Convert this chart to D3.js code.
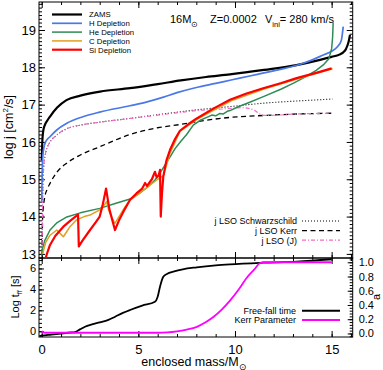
<!DOCTYPE html>
<html><head><meta charset="utf-8">
<script src="https://cdn.jsdelivr.net/npm/d3@7"></script>
<style>
body{margin:0;background:#fff;}
text{font-family:"Liberation Sans",Arial,Helvetica,sans-serif;fill:#000;}
</style></head>
<body><svg id="c" width="383" height="370"></svg>
<script>
// ---------- DATA ----------
const zams = [[0.0,15.5],[0.03,16.0],[0.08,16.3],[0.16,16.45],[0.3,16.58],[0.43,16.68],[0.8,16.92],[1.28,17.12],[2,17.24],[3.02,17.35],[4.57,17.44],[6,17.55],[7.2,17.65],[8.5,17.74],[9.74,17.81],[11.5,17.93],[13.18,18.06],[14.4,18.2],[15.0,18.28],[15.4,18.34],[15.6,18.4],[15.75,18.5],[15.86,18.65],[15.95,18.87]];
const hDepl = [[0.0,14.4],[0.03,15.3],[0.08,15.75],[0.2,16.0],[0.43,16.14],[0.78,16.32],[1.3,16.5],[2.1,16.67],[3,16.8],[4.57,16.97],[5.5,17.08],[6.3,17.2],[7,17.32],[8,17.46],[9,17.57],[9.8,17.66],[10.7,17.76],[11.5,17.85],[12.4,17.95],[13.3,18.07],[14.0,18.2],[14.57,18.33],[15.0,18.43],[15.3,18.55],[15.5,18.72],[15.6,19.09]];
const heDepl = [[0,12.95],[0.05,13.15],[0.15,13.35],[0.43,13.64],[0.8,13.84],[1.3,13.99],[2,14.1],[3,14.22],[3.8,14.35],[4.57,14.47],[5.0,14.6],[5.5,14.8],[5.86,14.98],[6.15,15.19],[6.4,15.4],[6.64,15.6],[6.9,15.82],[7.2,16.02],[7.5,16.2],[7.84,16.45],[8.2,16.58],[8.54,16.66],[8.8,16.72],[9.0,16.7],[9.2,16.76],[9.4,16.75],[9.6,16.82],[9.74,16.84],[10.2,16.95],[10.7,17.05],[11.5,17.22],[12.4,17.42],[13.0,17.57],[13.6,17.73],[14.2,17.92],[14.6,18.08],[14.85,18.22],[15.0,18.5],[15.05,18.8],[15.08,19.2]];
const cDepl = [[0.05,13.0],[0.2,13.3],[0.43,13.5],[0.78,13.64],[0.95,13.55],[1.12,13.46],[1.3,13.6],[1.46,13.73],[1.8,13.91],[2.2,14.0],[2.5,14.04],[3.0,14.18],[3.2,14.28],[3.36,14.4],[3.45,14.2],[3.53,14.09],[3.65,13.95],[3.79,13.82],[4.0,14.0],[4.3,14.25],[4.57,14.44],[5.0,14.6],[5.5,14.8],[6.0,15.0],[6.3,15.1],[6.64,15.7],[7.15,16.28],[8.07,16.62],[9.8,17.1],[11.5,17.42],[13.3,17.7],[15.05,17.96]];
const siDepl = [[0.18,12.85],[0.3,13.05],[0.43,13.24],[0.7,13.48],[1.12,13.73],[1.5,13.9],[1.88,14.05],[1.92,13.2],[2.1,13.35],[2.5,13.64],[2.8,13.85],[3.0,14.0],[3.15,14.3],[3.33,14.75],[3.5,14.2],[3.79,13.64],[4.0,13.9],[4.3,14.2],[4.57,14.45],[4.9,14.62],[5.2,14.75],[5.35,14.9],[5.45,14.82],[5.7,15.0],[5.86,15.2],[5.95,15.05],[6.05,15.1],[6.12,15.25],[6.16,14.0],[6.22,14.6],[6.29,15.07],[6.45,15.5],[6.64,15.79],[6.9,16.08],[7.15,16.3],[7.6,16.48],[8.02,16.63],[8.9,16.9],[9.74,17.13],[10.6,17.3],[11.46,17.44],[12.4,17.58],[13.19,17.71],[14.2,17.85],[15.0,17.97]];
const lsoSchw = [[0.02,13.0],[0.05,14.5],[0.1,15.3],[0.2,15.7],[0.4,15.97],[0.7,16.15],[1,16.27],[1.37,16.37],[2,16.45],[3,16.53],[4.57,16.63],[6,16.73],[8,16.86],[9.8,16.95],[11.5,17.04],[13.3,17.1],[15.05,17.15]];
const lsoKerr = [[0.02,13.0],[0.05,14.0],[0.15,14.5],[0.3,14.75],[0.43,14.89],[0.8,15.2],[1.29,15.43],[2,15.65],[3,15.87],[4.57,16.2],[6,16.38],[7.2,16.47],[8.5,16.58],[9.8,16.66],[11.5,16.71],[13.3,16.75],[15.05,16.77]];
const lsoJ = [[0.02,13.0],[0.05,14.5],[0.1,15.3],[0.2,15.7],[0.4,15.97],[0.7,16.15],[1,16.27],[1.37,16.37],[2,16.45],[3,16.53],[4.57,16.63],[6,16.72],[7,16.78],[8,16.84],[9,16.87],[9.8,16.9],[10.3,16.92],[10.7,16.9],[11.0,16.85],[11.2,16.78],[11.4,16.72],[11.6,16.71],[13.3,16.75],[15.05,16.77]];
const freeFall = [[-0.1,-0.45],[0,-0.42],[0.5,-0.32],[1.0,-0.22],[1.5,-0.12],[1.72,-0.08],[2.0,0.2],[2.24,0.43],[2.6,0.65],[2.93,0.82],[3.45,1.08],[3.8,1.39],[4.2,1.75],[4.57,2.03],[5.2,2.45],[5.86,2.82],[6.0,3.3],[6.12,4.26],[6.29,5.21],[6.5,5.5],[6.81,5.69],[7.3,5.92],[8.02,6.11],[9.0,6.3],[9.74,6.4],[11.46,6.55],[13.19,6.65],[15.0,6.88]];
const kerrA = [[0,0.03],[0.15,0.01],[1,0.01],[3,0.01],[5,0.01],[6.0,0.01],[6.5,0.015],[7.0,0.03],[7.5,0.055],[8.0,0.09],[8.5,0.16],[8.88,0.23],[9.3,0.33],[9.74,0.46],[10.2,0.62],[10.6,0.78],[11.0,0.9],[11.3,0.99],[11.5,1.0],[15.0,1.0]];

const xTicks = [0,5,10,15];
const jTicks = [13,14,15,16,17,18,19];
const tTicks = [0,2,4,6];
const aTicks = [0,0.2,0.4,0.6,0.8,1.0];
const legendTop = ["ZAMS","H Depletion","He Depletion","C Depletion","Si Depletion"];
const legendLSO = ["j LSO Schwarzschild","j LSO Kerr","j LSO (J)"];
const legendBot = ["Free-fall time","Kerr Parameter"];

// ---------- LAYOUT ----------
const L=39, R=352.7, T=2, MID=258, B=337;
const svg = d3.select("#c");
const x = d3.scaleLinear([-0.14,16.09],[L,R]);
const yJ = d3.scaleLinear([12.89,19.75],[MID,T]);
const yT = d3.scaleLinear([-0.55,7.0],[B,MID]);
const yA = d3.scaleLinear([-0.05,1.06],[B,MID]);

const defs = svg.append("defs");
defs.append("clipPath").attr("id","cTop").append("rect").attr("x",L).attr("y",T).attr("width",R-L).attr("height",MID-T);
defs.append("clipPath").attr("id","cBot").append("rect").attr("x",L).attr("y",MID).attr("width",R-L).attr("height",B-MID);

function rng(a,b,s){const o=[];for(let v=a;v<=b+1e-9;v+=s)o.push(+v.toFixed(4));return o;}

function axis(gen, transform, values, size, fmt){
  const g = svg.append("g").attr("transform",transform)
    .call(gen.tickValues(values).tickSize(size).tickPadding(3).tickFormat(fmt||""));
  g.select(".domain").remove();
  g.selectAll("line").attr("stroke","#000").attr("stroke-width",1);
  return g;
}
// top panel axes
axis(d3.axisLeft(yJ),`translate(${L},0)`,rng(12.9,19.7,0.1),-3);
axis(d3.axisLeft(yJ),`translate(${L},0)`,jTicks,-6,d3.format("d")).selectAll("text").attr("font-size",13);
axis(d3.axisRight(yJ),`translate(${R},0)`,rng(12.9,19.7,0.1),-3);
axis(d3.axisRight(yJ),`translate(${R},0)`,jTicks,-6);
axis(d3.axisTop(x),`translate(0,${T})`,rng(0,16,1),-3);
axis(d3.axisTop(x),`translate(0,${T})`,xTicks,-6);
axis(d3.axisBottom(x),`translate(0,${MID})`,rng(0,16,1),-3);
axis(d3.axisBottom(x),`translate(0,${MID})`,xTicks,-6);
// bottom panel axes
axis(d3.axisLeft(yT),`translate(${L},0)`,rng(-0.4,6.8,0.4),-3);
axis(d3.axisLeft(yT),`translate(${L},0)`,tTicks,-5,d3.format("d")).selectAll("text").attr("font-size",11);
axis(d3.axisRight(yA),`translate(${R},0)`,rng(-0.04,1.04,0.04),-3);
axis(d3.axisRight(yA),`translate(${R},0)`,aTicks,-5,d3.format(".1f")).selectAll("text").attr("font-size",11).attr("dx",3);
axis(d3.axisTop(x),`translate(0,${MID})`,rng(0,16,1),-3);
axis(d3.axisTop(x),`translate(0,${MID})`,xTicks,-6);
axis(d3.axisBottom(x),`translate(0,${B})`,rng(0,16,1),-3);
axis(d3.axisBottom(x),`translate(0,${B})`,xTicks,-6,d3.format("d")).selectAll("text").attr("font-size",13).attr("dy","1.05em");

// frames
svg.append("rect").attr("x",L).attr("y",T).attr("width",R-L).attr("height",MID-T).attr("fill","none").attr("stroke","#000");
svg.append("rect").attr("x",L).attr("y",MID).attr("width",R-L).attr("height",B-MID).attr("fill","none").attr("stroke","#000");

// curves
const gTop = svg.append("g").attr("clip-path","url(#cTop)");
const lineJ = d3.line().x(d=>x(d[0])).y(d=>yJ(d[1]));
const lineJs = d3.line().x(d=>x(d[0])).y(d=>yJ(d[1])).curve(d3.curveMonotoneX);
function draw(g,data,gen,col,w,dash){
  g.append("path").datum(data).attr("d",gen).attr("fill","none").attr("stroke",col)
   .attr("stroke-width",w).attr("stroke-dasharray",dash||null).attr("stroke-linejoin","round");
}
const cols = ["#000000","#4a78e6","#2e8b57","#e0a020","#ff0000"];
const pink = "#f46cc4";
draw(gTop,lsoSchw,lineJs,"#000",1.1,"1,2");
draw(gTop,lsoKerr,lineJs,"#000",1.3,"5,3.5");
draw(gTop,lsoJ,lineJs,pink,1.2,"4,2,1,2");
draw(gTop,zams,lineJs,cols[0],2.2);
draw(gTop,hDepl,lineJs,cols[1],1.7);
draw(gTop,heDepl,lineJ,cols[2],1.5);
draw(gTop,cDepl,lineJ,cols[3],1.5);
draw(gTop,siDepl,lineJ,cols[4],2.2);

const gBot = svg.append("g").attr("clip-path","url(#cBot)");
draw(gBot,freeFall,d3.line().x(d=>x(d[0])).y(d=>yT(d[1])).curve(d3.curveMonotoneX),"#000",1.8);
draw(gBot,kerrA,d3.line().x(d=>x(d[0])).y(d=>yA(d[1])).curve(d3.curveMonotoneX),"#ff00ff",1.8);

// legends
const widths=[2.2,1.7,1.5,1.5,2.2];
legendTop.forEach((t,i)=>{
  const yy = 14.5 + i*8.8;
  svg.append("line").attr("x1",52).attr("x2",82).attr("y1",yy).attr("y2",yy).attr("stroke",cols[i]).attr("stroke-width",widths[i]);
  svg.append("text").attr("x",89).attr("y",yy+2.9).attr("font-size",7.8).text(t);
});
const lsoStyle=[["#000","1,2",1.1],["#000","5,3.5",1.3],[pink,"4,2,1,2",1.2]];
legendLSO.forEach((t,i)=>{
  const yy = 221 + i*9.6;
  svg.append("line").attr("x1",302).attr("x2",340).attr("y1",yy).attr("y2",yy).attr("stroke",lsoStyle[i][0]).attr("stroke-dasharray",lsoStyle[i][1]).attr("stroke-width",lsoStyle[i][2]);
  svg.append("text").attr("x",297).attr("y",yy+3.3).attr("text-anchor","end").attr("font-size",9).text(t);
});
const botCols=["#000","#ff00ff"];
legendBot.forEach((t,i)=>{
  const yy = 310.7 + i*9.4;
  svg.append("line").attr("x1",302).attr("x2",340).attr("y1",yy).attr("y2",yy).attr("stroke",botCols[i]).attr("stroke-width",2);
  svg.append("text").attr("x",296).attr("y",yy+3.3).attr("text-anchor","end").attr("font-size",9).text(t);
});

// title
const t1 = svg.append("text").attr("x",170).attr("y",23).attr("font-size",11);
t1.append("tspan").text("16M");
t1.append("tspan").attr("dy",3.5).attr("font-size",8).text("⊙");
svg.append("text").attr("x",210).attr("y",23).attr("font-size",11).text("Z=0.0002");
const t3 = svg.append("text").attr("x",265).attr("y",23).attr("font-size",11);
t3.append("tspan").text("V");
t3.append("tspan").attr("dy",4).attr("font-size",7.5).text("ini");
t3.append("tspan").attr("dy",-4).text("= 280 km/s");

// axis labels
const yl = svg.append("text").attr("transform","translate(13,127) rotate(-90)").attr("text-anchor","middle").attr("font-size",12.5);
yl.append("tspan").text("log j [cm");
yl.append("tspan").attr("dy",-5).attr("font-size",8).text("2");
yl.append("tspan").attr("dy",5).text("/s]");
const tl = svg.append("text").attr("transform","translate(19,297) rotate(-90)").attr("text-anchor","middle").attr("font-size",11);
tl.append("tspan").text("Log t");
tl.append("tspan").attr("dy",3).attr("font-size",7.5).text("ff");
tl.append("tspan").attr("dy",-3).text(" [s]");
svg.append("text").attr("transform","translate(380,297) rotate(-90)").attr("text-anchor","middle").attr("font-size",11).text("a");
const xl = svg.append("text").attr("x",194).attr("y",366).attr("text-anchor","middle").attr("font-size",12.5);
xl.append("tspan").text("enclosed mass/M");
xl.append("tspan").attr("dy",3.5).attr("font-size",9).text("⊙");
</script></body></html>
